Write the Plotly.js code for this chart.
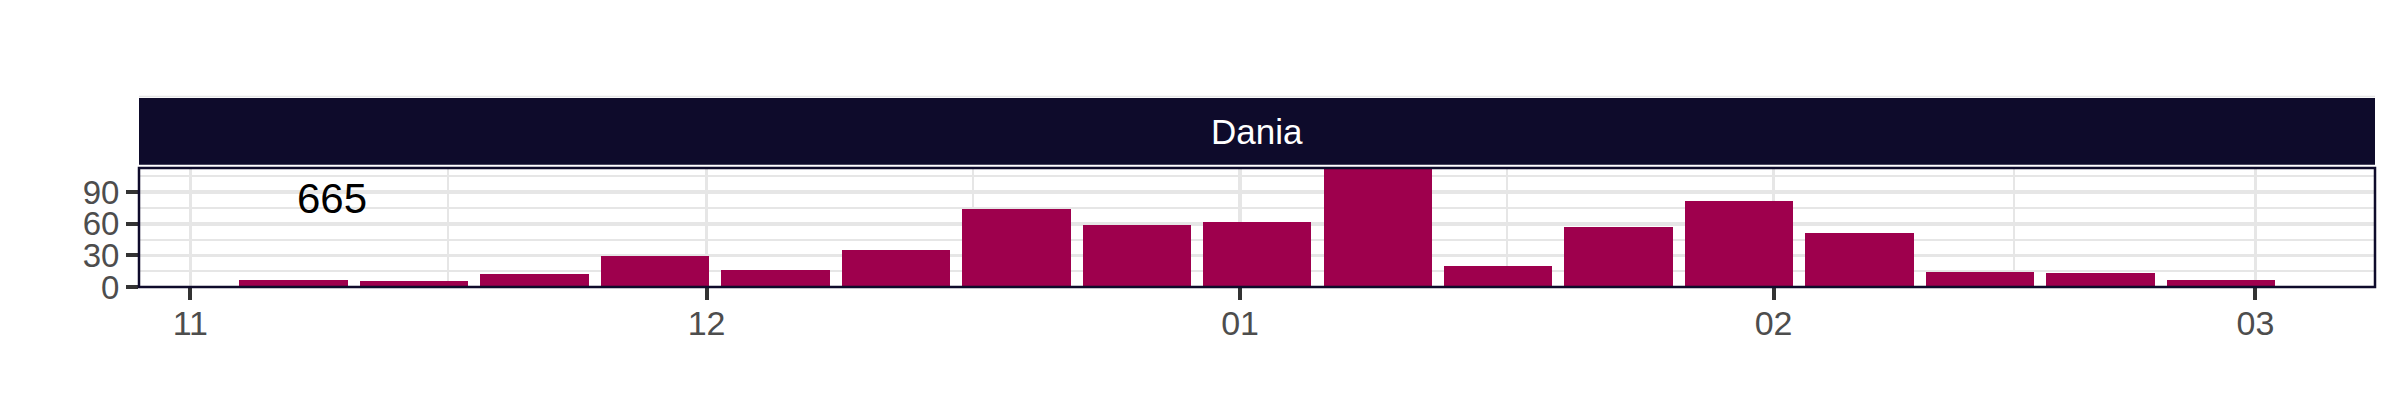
<!DOCTYPE html>
<html>
<head>
<meta charset="utf-8">
<script src="https://cdn.plot.ly/plotly-3.0.1.min.js"></script>
<style>
  html, body { margin: 0; padding: 0; background: #ffffff; }
  #chart { width: 2400px; height: 420px; }
</style>
</head>
<body>
<div id="chart"></div>
<script>
// ---- data ----
const weeks = ['2022-11-07','2022-11-14','2022-11-21','2022-11-28','2022-12-05','2022-12-12',
               '2022-12-19','2022-12-26','2023-01-02','2023-01-09','2023-01-16','2023-01-23',
               '2023-01-30','2023-02-06','2023-02-13','2023-02-20','2023-02-27'];
const counts = [7, 6, 12, 29, 16, 35, 74, 59, 62, 121, 20, 57, 82, 51, 14, 13, 7];
const panelLabel = 'Dania';
const totalLabel = '665';
const monthTickVals = ['2022-11-01','2022-12-01','2023-01-01','2023-02-01','2023-03-01'];
const monthTickText = ['11','12','01','02','03'];
const midMonthVals = ['2022-11-16','2022-12-16 12:00','2023-01-16 12:00','2023-02-15'];
const yTickVals = [0, 30, 60, 90];

// ---- layout constants (pixels) ----
const W = 2400, H = 420;
const mL = 139, mR = 24.5, mT = 168.3, mB = 132.5;
const plotH = H - mT - mB;
const bottomPx = H - mB;
const toPaperY = px => (bottomPx - px) / plotH;

const DAY = 86400000;
const navy = '#0E0B2B';
const grid = '#E6E6E6';
const FONT = 'Liberation Sans, Arial, Helvetica, sans-serif';

const trace = {
  type: 'bar',
  x: weeks,
  y: counts,
  width: weeks.map(() => 0.9 * 7 * DAY),
  marker: { color: '#9E004D', line: { width: 0 } },
  hoverinfo: 'x+y'
};

const layout = {
  width: W, height: H,
  margin: { l: mL, r: mR, t: mT, b: mB, pad: 0 },
  paper_bgcolor: '#ffffff',
  plot_bgcolor: '#ffffff',
  showlegend: false,
  font: { family: FONT, color: '#4D4D4D' },
  bargap: 0,
  xaxis: {
    type: 'date',
    range: ['2022-10-29 00:29', '2023-03-07 22:48'],
    tickmode: 'array',
    tickvals: monthTickVals,
    ticktext: monthTickText,
    ticks: 'outside', ticklen: 12, tickwidth: 4, tickcolor: '#333333',
    ticklabelstandoff: -6,
    tickfont: { size: 34, color: '#4D4D4D', family: FONT },
    showgrid: true, gridcolor: grid, gridwidth: 3.5,
    minor: { tickmode: 'array', tickvals: midMonthVals, showgrid: true, gridcolor: grid, gridwidth: 2, ticks: '' },
    zeroline: false, showline: false, fixedrange: true
  },
  yaxis: {
    range: [0, 113],
    tickmode: 'array',
    tickvals: yTickVals,
    ticks: 'outside', ticklen: 12, tickwidth: 4, tickcolor: '#333333',
    tickfont: { size: 33, color: '#4D4D4D', family: FONT },
    showgrid: true, gridcolor: grid, gridwidth: 3.5,
    minor: { tickmode: 'linear', tick0: 15, dtick: 30, showgrid: true, gridcolor: grid, gridwidth: 2, ticks: '' },
    zeroline: false, showline: false, fixedrange: true
  },
  shapes: [
    // facet strip
    { type: 'rect', xref: 'paper', yref: 'paper', x0: 0, x1: 1,
      y0: toPaperY(165), y1: toPaperY(98.3),
      fillcolor: navy, line: { width: 0 }, layer: 'above' },
    // faint line above strip
    { type: 'line', xref: 'paper', yref: 'paper', x0: 0, x1: 1,
      y0: toPaperY(96.8), y1: toPaperY(96.8),
      line: { color: '#E6E6E6', width: 1.5 }, layer: 'above' },
    // panel border
    { type: 'rect', xref: 'paper', yref: 'paper', x0: 0, x1: 1, y0: 0, y1: 1,
      fillcolor: 'rgba(0,0,0,0)', line: { color: navy, width: 2.5 }, layer: 'above' }
  ],
  annotations: [
    { text: panelLabel, xref: 'paper', yref: 'paper', x: 0.5, y: toPaperY(131.6),
      xanchor: 'center', yanchor: 'middle', showarrow: false,
      font: { size: 35, color: '#ffffff', family: FONT } },
    { text: totalLabel, xref: 'paper', yref: 'y', x: 0.0862, y: 84.5,
      xanchor: 'center', yanchor: 'middle', showarrow: false,
      font: { size: 42, color: '#000000', family: FONT } }
  ]
};

Plotly.newPlot('chart', [trace], layout, { displayModeBar: false, staticPlot: true });
</script>
</body>
</html>
